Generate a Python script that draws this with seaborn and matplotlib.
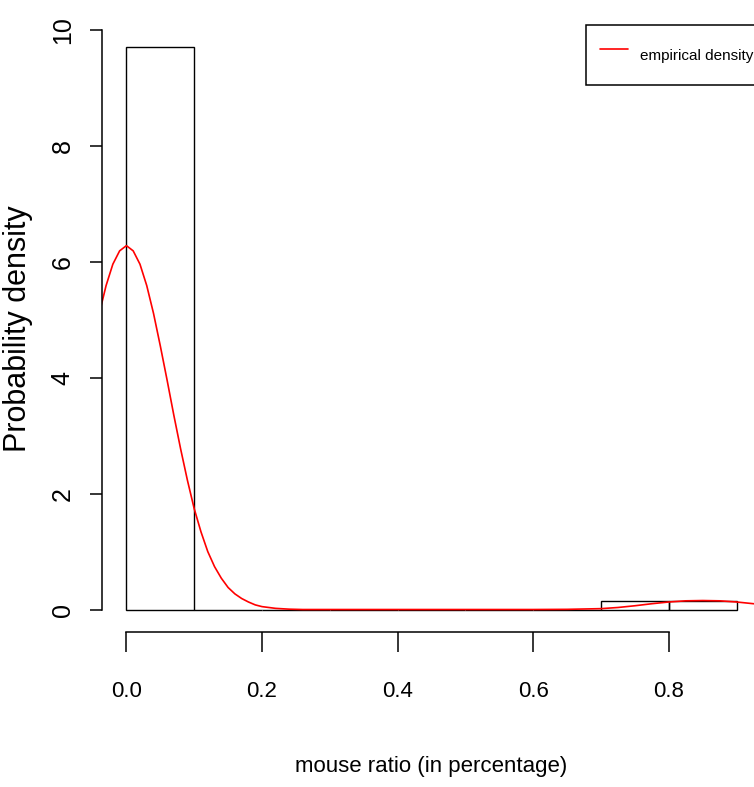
import numpy as np
import pandas as pd
import seaborn as sns
import matplotlib
matplotlib.use("Agg")
from matplotlib import pyplot as plt

# histogram (density scale), bins of width 0.1
bin_edges = [0.0, 0.1, 0.2, 0.3, 0.4, 0.5, 0.6, 0.7, 0.8, 0.9]
bin_heights = [9.7, 0.0, 0.0, 0.0, 0.0, 0.0, 0.0, 0.15, 0.15]

# empirical density curve
dens_x = [-0.04, -0.03, -0.02, -0.01, 0.0, 0.01, 0.02, 0.03, 0.04, 0.05,
          0.06, 0.07, 0.08, 0.09, 0.1, 0.11, 0.12, 0.13, 0.14, 0.15,
          0.16, 0.17, 0.18, 0.19, 0.2, 0.22, 0.24, 0.26, 0.3, 0.4,
          0.5, 0.6, 0.65, 0.7, 0.725, 0.75, 0.775, 0.8, 0.825, 0.85,
          0.875, 0.9, 0.925, 0.95]
dens_y = [5.11, 5.59, 5.96, 6.19, 6.28, 6.19, 5.96, 5.59, 5.11, 4.55,
          3.96, 3.35, 2.77, 2.23, 1.74, 1.34, 1.0, 0.74, 0.54, 0.38,
          0.27, 0.19, 0.13, 0.08, 0.05, 0.02, 0.006, 0.0, 0.0, 0.0,
          0.0, 0.0, 0.003, 0.015, 0.035, 0.065, 0.10, 0.13,
          0.15, 0.155, 0.15, 0.13, 0.10, 0.07]

xticks = [0.0, 0.2, 0.4, 0.6, 0.8]
yticks = [0, 2, 4, 6, 8, 10]

sns.set_style("white")
plt.rcParams['font.family'] = ['Liberation Sans', 'DejaVu Sans']
plt.rcParams['text.color'] = 'black'
plt.rcParams['axes.labelcolor'] = 'black'
plt.rcParams['xtick.color'] = 'black'
plt.rcParams['ytick.color'] = 'black'

fig = plt.figure(figsize=(7.54, 7.87), dpi=100)
ax = fig.add_axes([102/754, 155/787, 659/754, 607/787])

mids = [(a + b) / 2 for a, b in zip(bin_edges[:-1], bin_edges[1:])]
sns.histplot(x=mids, weights=bin_heights, bins=bin_edges, fill=False,
             color="black", linewidth=1.0, ax=ax)
sns.lineplot(x=dens_x, y=dens_y, color="red", linewidth=1.2, ax=ax,
             label="empirical density")

ax.set_xlim(-0.036, 0.936)
ax.set_ylim(-0.388, 10.088)

for s in ["top", "right"]:
    ax.spines[s].set_visible(False)
ax.spines["left"].set_bounds(0, 10)
ax.spines["bottom"].set_bounds(0, 0.8)
for s in ["left", "bottom"]:
    ax.spines[s].set_linewidth(1.1)
    ax.spines[s].set_color("black")

ax.set_xticks(xticks)
ax.set_xticklabels([f"{v:.1f}" for v in xticks], fontsize=16)
ax.set_yticks(yticks)
ax.set_yticklabels([str(v) for v in yticks], rotation=90, va="center", fontsize=18)
ax.tick_params(axis="x", bottom=True, direction="out", length=14.4, width=1.1, pad=21)
ax.tick_params(axis="y", left=True, direction="out", length=8.6, width=1.1, pad=11)

ax.set_xlabel("mouse ratio (in percentage)", fontsize=16)
ax.set_ylabel("Probability density", fontsize=22)
ax.xaxis.set_label_coords(0.5, -0.205)
ax.yaxis.set_label_coords(-0.105, 0.5)

leg = ax.legend(loc="upper left", bbox_to_anchor=(0.7344, 1.0), borderaxespad=0,
                fancybox=False, edgecolor="black", framealpha=1,
                prop={"size": 11}, borderpad=0.9,
                handleheight=2.9, handlelength=1.85, handletextpad=0.8)
leg.get_frame().set_linewidth(1.1)

fig.savefig("out.png", dpi=100)
